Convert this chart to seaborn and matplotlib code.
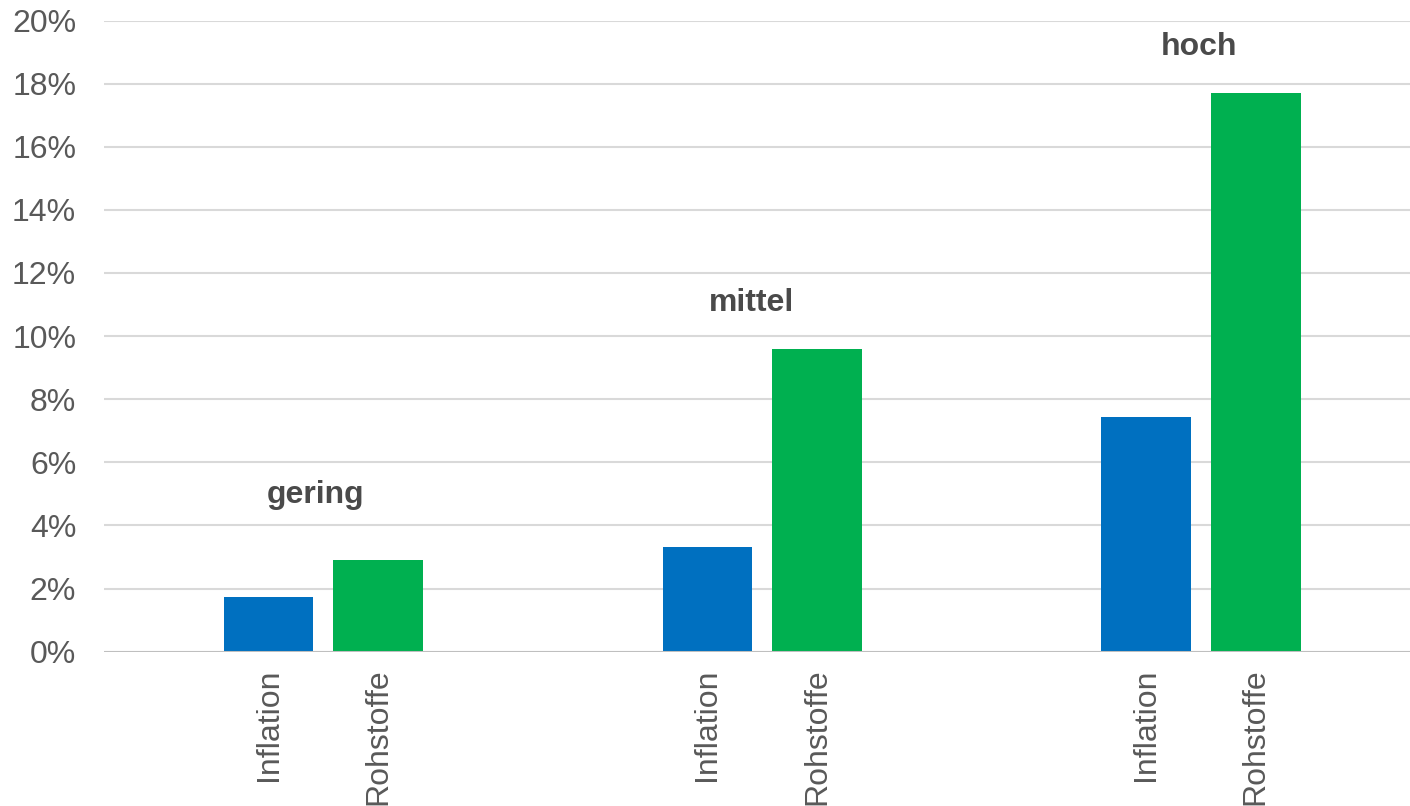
import matplotlib
matplotlib.use("Agg")
import matplotlib.pyplot as plt
import matplotlib.ticker as mticker
import numpy as np
import pandas as pd
import seaborn as sns

# Data (percent)
groups = ["gering", "mittel", "hoch"]
series = ["Inflation", "Rohstoffe"]
inflation = [1.72, 3.31, 7.45]
rohstoffe = [2.91, 9.58, 17.70]
y_ticks = [0, 2, 4, 6, 8, 10, 12, 14, 16, 18, 20]

colors = {"Inflation": "#0070C0", "Rohstoffe": "#00B050"}
text_grey = "#595959"

# Each group occupies four slots: empty, Inflation, Rohstoffe, empty
rows = []
for g, (vi, vr) in enumerate(zip(inflation, rohstoffe)):
    rows.append({"pos": 4 * g + 1, "value": vi, "series": "Inflation", "group": groups[g]})
    rows.append({"pos": 4 * g + 2, "value": vr, "series": "Rohstoffe", "group": groups[g]})
df = pd.DataFrame(rows)

sns.set_theme(style="white")
plt.rcParams["font.family"] = ["Liberation Sans", "DejaVu Sans"]

W, H = 1410, 806
fig = plt.figure(figsize=(W / 100, H / 100), dpi=100)
ax = fig.add_axes([104 / W, 1 - 651.7 / H, 1316.4 / W, 631.2 / H])

sns.barplot(data=df, x="pos", y="value", hue="series", palette=colors,
            native_scale=True, dodge=False, width=0.816, saturation=1,
            legend=False, ax=ax, zorder=3)
for p in ax.patches:
    p.set_linewidth(0)

ax.set_xlim(-0.5, 11.5)
ax.set_ylim(0, 20)
ax.set_yticks(y_ticks)
ax.yaxis.set_major_formatter(mticker.FuncFormatter(lambda v, _: f"{v:.0f}%"))
ax.grid(axis="y", color="#D9D9D9", linewidth=1.5, zorder=0)
ax.grid(axis="x", visible=False)
ax.axhline(0, color="#BFBFBF", linewidth=2.2, zorder=4)

ax.set_xticks(df["pos"].tolist())
ax.set_xticklabels(df["series"].tolist(), rotation=90, va="top", ha="center")
ax.tick_params(axis="x", length=0, pad=12, labelsize=23, labelcolor=text_grey)
ax.tick_params(axis="y", length=0, pad=20, labelsize=23, labelcolor=text_grey)

for s in ax.spines.values():
    s.set_visible(False)
ax.set_xlabel("")
ax.set_ylabel("")

# Group labels above each pair of bars
label_x = [1.43, 1.4, 1.48]
label_heights = [4.95, 11.05, 19.15]
for g, name in enumerate(groups):
    ax.text(4 * g + label_x[g], label_heights[g], name, ha="center", va="center",
            fontsize=23, fontweight="bold", color="#4A4A4A", zorder=5)

fig.savefig("out.png", dpi=100)
